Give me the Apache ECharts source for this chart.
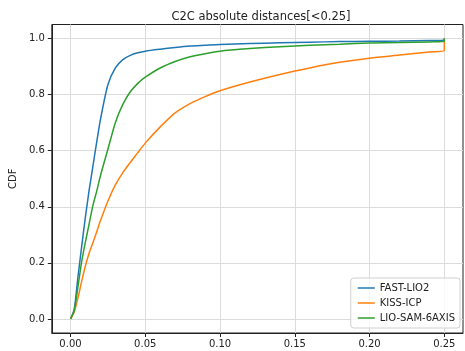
<!DOCTYPE html>
<html>
<head>
<meta charset="utf-8">
<script src="https://cdn.jsdelivr.net/npm/echarts@6/dist/echarts.min.js"></script>
<style>
  html, body { margin: 0; padding: 0; background: #fff; }
  #chart { width: 465px; height: 351px; }
</style>
</head>
<body>
<div id="chart"></div>
<script>
// distance thresholds (m) and CDF values
const distances = [0, 0.0025, 0.005, 0.0075, 0.01, 0.0125, 0.015, 0.0175, 0.02, 0.025, 0.03, 0.035, 0.04, 0.045, 0.05,
  0.06, 0.07, 0.08, 0.09, 0.10, 0.12, 0.14, 0.16, 0.18, 0.20, 0.22, 0.24, 0.25, 0.25];
const fastLio2 = [0, 0.035, 0.15, 0.26, 0.365, 0.46, 0.545, 0.63, 0.71, 0.835, 0.895, 0.925, 0.94, 0.949, 0.955,
  0.962, 0.968, 0.973, 0.976, 0.979, 0.982, 0.985, 0.987, 0.989, 0.990, 0.991, 0.993, 0.994, 1.0];
const kissIcp = [0, 0.025, 0.075, 0.135, 0.19, 0.235, 0.272, 0.31, 0.35, 0.42, 0.478, 0.522, 0.558, 0.593, 0.627,
  0.685, 0.735, 0.768, 0.793, 0.814, 0.845, 0.872, 0.895, 0.915, 0.930, 0.941, 0.952, 0.957, 1.0];
const lioSam6axis = [0, 0.03, 0.115, 0.205, 0.275, 0.34, 0.405, 0.455, 0.51, 0.605, 0.70, 0.765, 0.81, 0.84, 0.862,
  0.895, 0.918, 0.935, 0.946, 0.955, 0.964, 0.971, 0.976, 0.980, 0.984, 0.986, 0.988, 0.989, 1.0];

const seriesNames = ['FAST-LIO2', 'KISS-ICP', 'LIO-SAM-6AXIS'];
const seriesColors = ['#1f77b4', '#ff7f0e', '#2ca02c'];
const xTicks = [0, 0.05, 0.10, 0.15, 0.20, 0.25];
const yTicks = [0, 0.2, 0.4, 0.6, 0.8, 1.0];

const FONT = 'DejaVu Sans';
const chart = echarts.init(document.getElementById('chart'), null, { renderer: 'canvas' });

const toPairs = vals => distances.map((d, i) => [d, vals[i]]);

chart.setOption({
  animation: false,
  backgroundColor: '#fff',
  textStyle: { fontFamily: FONT },
  title: {
    text: 'C2C absolute distances[<0.25]',
    left: 256, top: 6, textAlign: 'center',
    textStyle: { fontFamily: FONT, fontSize: 11.5, fontWeight: 'normal', color: '#222' },
  },
  grid: {
    left: 50, right: 2, top: 24.5, bottom: 18,
    show: true, borderColor: '#222', borderWidth: 1,
  },
  legend: {
    orient: 'vertical',
    right: 5, bottom: 23,
    data: seriesNames,
    icon: 'rect',
    itemWidth: 17, itemHeight: 1.5, itemGap: 3,
    padding: [4, 5, 4, 7],
    borderColor: '#d0d0d0', borderWidth: 1, borderRadius: 3,
    backgroundColor: 'rgba(255,255,255,0.8)',
    textStyle: { fontFamily: FONT, fontSize: 10, color: '#222', lineHeight: 12 },
  },
  xAxis: {
    type: 'value',
    min: -0.0125, max: 0.2625,
    axisLine: { onZero: false, lineStyle: { color: '#222' } },
    axisTick: { customValues: xTicks, length: 4, lineStyle: { color: '#222' } },
    axisLabel: {
      customValues: xTicks, margin: 6,
      fontFamily: FONT, fontSize: 10, color: '#222',
      formatter: v => v.toFixed(2),
    },
    splitLine: { show: true, lineStyle: { color: '#dcdcdc', width: 1 } },
  },
  yAxis: {
    type: 'value',
    min: -0.05, max: 1.05,
    name: 'CDF', nameLocation: 'middle', nameGap: 22, nameRotate: 90,
    nameTextStyle: { fontFamily: FONT, fontSize: 10, color: '#222' },
    axisLine: { show: true, onZero: false, lineStyle: { color: '#222' } },
    axisTick: { show: true, customValues: yTicks, length: 4, lineStyle: { color: '#222' } },
    axisLabel: {
      customValues: yTicks, margin: 7,
      fontFamily: FONT, fontSize: 10, color: '#222',
      formatter: v => v.toFixed(1),
    },
    splitLine: { show: true, lineStyle: { color: '#dcdcdc', width: 1 } },
  },
  series: [fastLio2, kissIcp, lioSam6axis].map((vals, i) => ({
    name: seriesNames[i],
    type: 'line',
    data: toPairs(vals),
    showSymbol: false,
    smooth: 0.25,
    color: seriesColors[i],
    lineStyle: { color: seriesColors[i], width: 1.5 },
  })),
});
</script>
</body>
</html>
